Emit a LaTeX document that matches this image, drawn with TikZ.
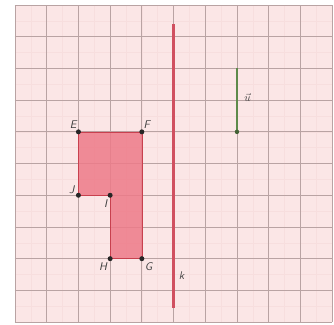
\documentclass[tikz,border=0pt]{standalone}
\usepackage{tikz}
\usetikzlibrary{positioning}
\definecolor{gridbg}{HTML}{FBE6E6}
\definecolor{gridmajor}{HTML}{B9A3A3}
\definecolor{gridminor}{HTML}{F7DEDE}
\definecolor{shapefill}{HTML}{EE7A88}
\definecolor{shapeline}{HTML}{C8404E}
\definecolor{linek}{RGB}{208,80,96}
\definecolor{vecgreen}{HTML}{5E8A4A}

\begin{document}
\begin{tikzpicture}[scale=1.0,
    dot/.style={circle, fill=black!85, inner sep=0pt, minimum size=4.5pt},
    lbl/.style={font=\sffamily\itshape, text=black!75, inner sep=1.5pt}]
    \useasboundingbox (-0.473,-0.09) rectangle (10.06,10.158);
    % 网格
    \fill[white] (-0.473,-0.09) rectangle (10.06,10.158);
    \fill[gridbg] (0,0) rectangle (10,10);
    \draw[gridminor, line width=0.4pt] (0,0) grid[step=0.5] (10,10);
    \draw[gridmajor, line width=0.8pt] (0,0) grid (10,10);

    % 图形顶点
    \coordinate (E) at (2,6);
    \coordinate (F) at (4,6);
    \coordinate (G) at (4,2);
    \coordinate (H) at (3,2);
    \coordinate (I) at (3,4);
    \coordinate (J) at (2,4);

    % 图形
    \fill[shapefill, fill opacity=0.85] (E) -- (F) -- (G) -- (H) -- (I) -- (J) -- cycle;
    \draw[shapeline, line width=0.6pt] (E) -- (F) -- (G) -- (H) -- (I) -- (J) -- cycle;
    \foreach \p in {E,F,G,H,I,J}
        \node[dot] (d\p) at (\p) {};

    % 顶点标注
    \node[lbl, above left=1pt and 0pt of E] (lE) {E};
    \node[lbl, above right=1pt and 0pt of F] (lF) {F};
    \node[lbl, left=2pt of J, yshift=5pt] (lJ) {J};
    \node[lbl, below left=2pt and 1pt of I] (lI) {I};
    \node[lbl, below left=2pt and 1pt of H] (lH) {H};
    \node[lbl, below right=2pt and 1pt of G] (lG) {G};

    % 对称轴 k
    \coordinate (ktop) at (5,9.4);
    \coordinate (kbot) at (5,0.45);
    \fill[linek] ([xshift=-1pt]ktop) rectangle ([xshift=1pt]kbot);
    \node[lbl] (lk) at (5.25,1.45) {k};

    % 向量
    \coordinate (vtop) at (7,8);
    \coordinate (vbot) at (7,6);
    \draw[vecgreen, line width=1pt] (vtop) -- (vbot);
    \node[circle, fill=vecgreen!70!black, inner sep=0pt, minimum size=4pt] (dv) at (vbot) {};
    \node[text=black!75] (lv) at (7.33,7.08) {$\vec{u}$};
\end{tikzpicture}
\end{document}
